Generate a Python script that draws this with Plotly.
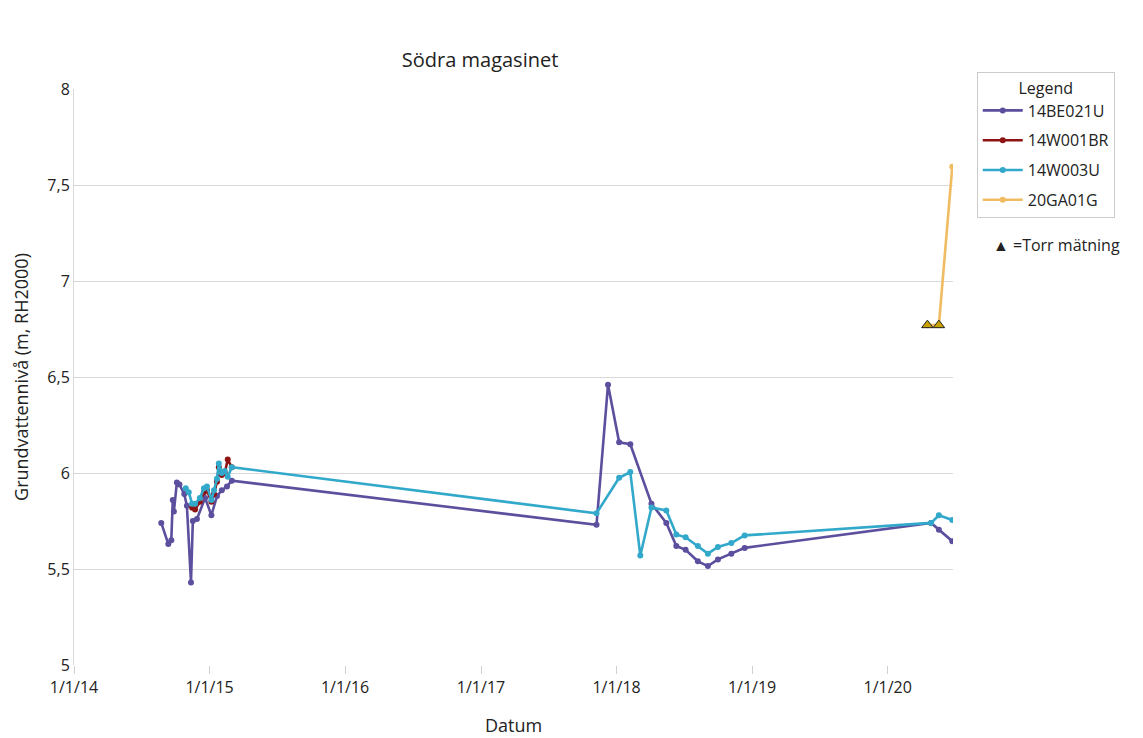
import plotly.graph_objects as go

# ---- data ----
be021u_dates = ["2014-08-24", "2014-09-12", "2014-09-20", "2014-09-24", "2014-09-27",
                "2014-10-05", "2014-10-12", "2014-10-25", "2014-11-01", "2014-11-12",
                "2014-11-17", "2014-11-28", "2014-12-20", "2015-01-06", "2015-01-21",
                "2015-02-03", "2015-02-17", "2015-03-02", "2017-11-08", "2017-12-09",
                "2018-01-08", "2018-02-07", "2018-04-05", "2018-05-15", "2018-06-11",
                "2018-07-06", "2018-08-08", "2018-09-04", "2018-10-01", "2018-11-06",
                "2018-12-12", "2020-04-27", "2020-05-18", "2020-06-23"]
be021u_vals = [5.74, 5.63, 5.65, 5.86, 5.80,
               5.95, 5.94, 5.89, 5.83, 5.43,
               5.75, 5.76, 5.87, 5.78, 5.88,
               5.91, 5.93, 5.96, 5.73, 6.46,
               6.16, 6.15, 5.84, 5.74, 5.62,
               5.60, 5.54, 5.515, 5.55, 5.58,
               5.61, 5.74, 5.705, 5.645]

w001br_dates = ["2014-11-15", "2014-11-23", "2014-12-06", "2014-12-17", "2014-12-25",
                "2015-01-06", "2015-01-13", "2015-01-21", "2015-01-26", "2015-02-03",
                "2015-02-11", "2015-02-19", "2015-03-02"]
w001br_vals = [5.82, 5.81, 5.85, 5.90, 5.91,
               5.85, 5.89, 5.955, 6.03, 5.99,
               6.00, 6.07, 6.03]

w003u_dates = ["2014-10-29", "2014-11-06", "2014-11-15", "2014-11-23", "2014-12-06",
               "2014-12-17", "2014-12-25", "2015-01-06", "2015-01-13", "2015-01-21",
               "2015-01-26", "2015-02-03", "2015-02-11", "2015-02-19", "2015-03-02",
               "2017-11-08", "2018-01-08", "2018-02-07", "2018-03-06", "2018-04-05",
               "2018-05-15", "2018-06-11", "2018-07-06", "2018-08-08", "2018-09-04",
               "2018-10-01", "2018-11-06", "2018-12-12", "2020-04-27", "2020-05-18",
               "2020-06-23"]
w003u_vals = [5.92, 5.90, 5.84, 5.84, 5.87,
              5.92, 5.93, 5.86, 5.91, 5.97,
              6.05, 6.00, 6.01, 5.98, 6.03,
              5.79, 5.975, 6.005, 5.57, 5.82,
              5.805, 5.68, 5.665, 5.62, 5.58,
              5.615, 5.635, 5.675, 5.74, 5.78,
              5.755]

ga01g_dates = ["2020-04-17", "2020-05-18", "2020-06-23"]
ga01g_vals = [6.77, 6.77, 7.595]
ga01g_dry = [True, True, False]

x_tickvals = ["2014-01-01", "2015-01-01", "2016-01-01", "2017-01-01",
              "2018-01-01", "2019-01-01", "2020-01-01"]
x_ticktext = ["1/1/14", "1/1/15", "1/1/16", "1/1/17", "1/1/18", "1/1/19", "1/1/20"]
y_tickvals = [5, 5.5, 6, 6.5, 7, 7.5, 8]
y_ticktext = ["5", "5,5", "6", "6,5", "7", "7,5", "8"]

FONT = "Open Sans"
C_PURPLE = "#5b4f9e"
C_RED = "#8e1414"
C_CYAN = "#32a9cb"
C_YELLOW = "#efbc62"

fig = go.Figure()

def add_series(name, x, y, color):
    fig.add_trace(go.Scatter(
        x=x, y=y, name=name, legendgroup=name, mode="lines+markers",
        line=dict(color=color, width=2.6),
        marker=dict(color=color, size=6),
    ))

add_series("14BE021U", be021u_dates, be021u_vals, C_PURPLE)
add_series("14W001BR", w001br_dates, w001br_vals, C_RED)
add_series("14W003U", w003u_dates, w003u_vals, C_CYAN)
add_series("20GA01G", ga01g_dates, ga01g_vals, C_YELLOW)

dry_x = [d for d, f in zip(ga01g_dates, ga01g_dry) if f]
dry_y = [v for v, f in zip(ga01g_vals, ga01g_dry) if f]
fig.add_trace(go.Scatter(
    x=dry_x, y=dry_y, mode="markers", showlegend=False,
    marker=dict(symbol="triangle-up", size=10, color="#c9a200",
                line=dict(color="#222222", width=1)),
))

fig.update_layout(
    width=1143, height=738,
    margin=dict(l=74, r=190, t=89, b=73),
    paper_bgcolor="white", plot_bgcolor="white",
    font=dict(family=FONT, size=15, color="#222222"),
    title=dict(text="Södra magasinet", x=0.42, xanchor="center",
               y=1 - 60 / 738, yanchor="middle", yref="container",
               font=dict(family=FONT, size=20, color="#222222")),
    xaxis=dict(
        type="date", range=["2014-01-01", "2020-06-25"],
        tickvals=x_tickvals, ticktext=x_ticktext,
        showgrid=False, zeroline=False,
        ticks="outside", ticklen=8, tickcolor="#d0d0d0",
        showline=False, automargin=False,
        tickfont=dict(size=16),
        title=dict(text="Datum", font=dict(size=18), standoff=22),
    ),
    yaxis=dict(
        range=[5, 8], tickvals=y_tickvals, ticktext=y_ticktext,
        showgrid=True, gridcolor="#d9d9d9", gridwidth=1,
        zeroline=False, showline=True, linecolor="#d9d9d9",
        ticks="", tickfont=dict(size=16), automargin=False,
        title=dict(text="Grundvattennivå (m, RH2000)", font=dict(size=18), standoff=14),
    ),
    legend=dict(
        x=1.027, xanchor="left", y=1.03, yanchor="top",
        bordercolor="#cccccc", borderwidth=1, bgcolor="white",
        font=dict(size=16),
        title=dict(text="Legend", side="top center", font=dict(size=16)),
        tracegroupgap=6, itemwidth=40, entrywidth=130,
    ),
    annotations=[dict(
        text="▲ =Torr mätning", xref="paper", yref="paper",
        x=1.043, y=0.729, xanchor="left", yanchor="middle",
        showarrow=False, font=dict(size=16, color="#222222"),
    )],
)

fig.write_html("out.html")
